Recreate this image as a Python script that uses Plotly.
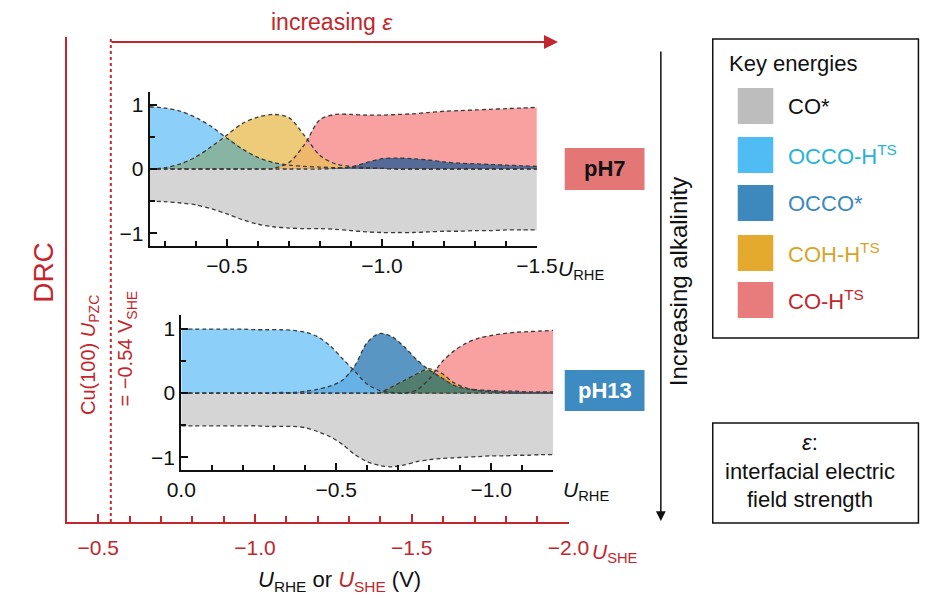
import numpy as np
import plotly.graph_objects as go

# ---------------- data ----------------
# pH 7 panel, potential vs RHE (V)
u_ph7 = [-0.25, -0.30, -0.35, -0.40, -0.45, -0.50, -0.55, -0.60, -0.65, -0.70,
         -0.75, -0.80, -0.85, -0.90, -0.95, -1.00, -1.05, -1.10, -1.15, -1.20,
         -1.25, -1.30, -1.35, -1.40, -1.45, -1.50]
ph7_co = [-0.50, -0.51, -0.53, -0.56, -0.62, -0.70, -0.79, -0.86, -0.90, -0.92,
          -0.93, -0.93, -0.94, -0.96, -0.98, -0.99, -0.99, -0.99, -0.98, -0.97,
          -0.97, -0.96, -0.96, -0.95, -0.95, -0.95]
ph7_occo_h = [0.97, 0.95, 0.90, 0.80, 0.66, 0.48, 0.31, 0.18, 0.10, 0.06,
              0.04, 0.03, 0.02, 0.02, 0.01, 0.01, 0, 0, 0, 0,
              0, 0, 0, 0, 0, 0]
ph7_occo = [0, 0, 0, 0, 0, 0, 0, 0, 0, 0,
            0, 0, 0.01, 0.03, 0.10, 0.16, 0.17, 0.16, 0.14, 0.11,
            0.09, 0.08, 0.07, 0.06, 0.05, 0.04]
ph7_coh_h = [0.00, 0.02, 0.08, 0.19, 0.35, 0.53, 0.71, 0.81, 0.85, 0.80,
             0.52, 0.21, 0.08, 0.04, 0.02, 0.01, 0, 0, 0, 0,
             0, 0, 0, 0, 0, 0]
ph7_co_h = [0, 0, 0, 0, 0, 0, 0, 0, 0.01, 0.10,
            0.38, 0.77, 0.85, 0.85, 0.84, 0.84, 0.85, 0.86, 0.88, 0.90,
            0.91, 0.92, 0.93, 0.94, 0.95, 0.96]

# pH 13 panel, potential vs RHE (V)
u_ph13 = [0.00, -0.04, -0.08, -0.12, -0.16, -0.20, -0.24, -0.28, -0.32, -0.36,
          -0.40, -0.44, -0.48, -0.52, -0.56, -0.60, -0.64, -0.68, -0.72, -0.76,
          -0.80, -0.84, -0.88, -0.92, -0.96, -1.00, -1.04, -1.08, -1.12, -1.16,
          -1.20]
ph13_co = [-0.51, -0.51, -0.51, -0.51, -0.51, -0.51, -0.51, -0.52, -0.52, -0.52,
           -0.54, -0.60, -0.68, -0.80, -0.96, -1.07, -1.13, -1.15, -1.12, -1.07,
           -1.04, -1.02, -1.01, -1.00, -0.99, -0.98, -0.98, -0.97, -0.97, -0.96,
           -0.96]
ph13_occo_h = [1.00, 1.00, 1.00, 1.00, 1.00, 1.00, 0.99, 0.99, 0.99, 0.98,
               0.95, 0.88, 0.74, 0.54, 0.34, 0.14, 0.04, 0.01, 0, 0,
               0, 0, 0, 0, 0, 0, 0, 0, 0, 0,
               0]
ph13_occo = [0, 0, 0, 0, 0, 0, 0, 0, 0.01, 0.01,
             0.03, 0.06, 0.11, 0.20, 0.43, 0.79, 0.93, 0.88, 0.72, 0.52,
             0.36, 0.24, 0.12, 0.07, 0.05, 0.04, 0.03, 0.03, 0.02, 0.02,
             0.02]
ph13_coh_h = [0, 0, 0, 0, 0, 0, 0, 0, 0, 0,
              0, 0, 0, 0, 0, 0, 0.01, 0.10, 0.20, 0.30,
              0.38, 0.31, 0.16, 0.08, 0.04, 0.02, 0.01, 0, 0, 0,
              0]
ph13_co_h = [0, 0, 0, 0, 0, 0, 0, 0, 0, 0,
             0, 0, 0, 0, 0, 0, 0, 0, 0, 0.05,
             0.22, 0.48, 0.66, 0.78, 0.86, 0.90, 0.93, 0.95, 0.96, 0.97,
             0.98]

# outer potential axis (SHE) and the Cu(100) potential of zero charge
she_ticks = [-0.5, -1.0, -1.5, -2.0]
u_pzc = -0.54

# legend entries: label, swatch colour, label colour
species = ["CO*", "OCCO-H<sup>TS</sup>", "OCCO*", "COH-H<sup>TS</sup>", "CO-H<sup>TS</sup>"]
swatch_colors = ["#BDBDBD", "#4FBDF4", "#3D88BC", "#E3AA2E", "#E87B7B"]
label_colors = ["#111111", "#27B3D8", "#3D88BC", "#D6A528", "#C1272D"]

# ---------------- styling ----------------
FONT = "Liberation Sans, Arial, sans-serif"
RED = "#C1272D"
W, H = 925, 598

fill_co = "#D5D5D5"
fill_occo_h = "#8CD0FA"
fill_occo = "#5A96C3"
fill_coh_h = "#EECB78"
fill_co_h = "#F9A1A1"


def px(x):
    return x / W


def py(y):
    return 1 - y / H


fig = go.Figure()


def area(xs, ys, color, xa, ya):
    fig.add_trace(go.Scatter(
        x=xs, y=ys, mode="lines", fill="tozeroy", fillcolor=color,
        line=dict(width=0, shape="spline", smoothing=0.9, color=color),
        xaxis=xa, yaxis=ya, hoverinfo="skip", showlegend=False))


def outline(xs, ys, xa, ya):
    fig.add_trace(go.Scatter(
        x=xs, y=ys, mode="lines",
        line=dict(width=1.3, shape="spline", smoothing=0.9, color="#3A3A3A", dash="4px,3px"),
        xaxis=xa, yaxis=ya, hoverinfo="skip", showlegend=False))


# ---- pH 7 panel ----
area(u_ph7, ph7_co, fill_co, "x2", "y2")
area(u_ph7, ph7_occo_h, fill_occo_h, "x2", "y2")
area(u_ph7, ph7_coh_h, fill_coh_h, "x2", "y2")
area(u_ph7, ph7_co_h, fill_co_h, "x2", "y2")
area(u_ph7, ph7_occo, fill_occo, "x2", "y2")
# overlapping regions
area(u_ph7, np.minimum(ph7_occo_h, ph7_coh_h), "#88B4A4", "x2", "y2")
area(u_ph7, np.minimum(ph7_occo_h, ph7_co_h), "#A6B6DE", "x2", "y2")
area(u_ph7, np.minimum(ph7_coh_h, ph7_co_h), "#EEB76C", "x2", "y2")
area(u_ph7, np.minimum(ph7_occo, ph7_co_h), "#566A98", "x2", "y2")
for s in (ph7_co, ph7_occo_h, ph7_coh_h, ph7_co_h, ph7_occo):
    outline(u_ph7, s, "x2", "y2")

# ---- pH 13 panel ----
area(u_ph13, ph13_co, fill_co, "x3", "y3")
area(u_ph13, ph13_occo_h, fill_occo_h, "x3", "y3")
area(u_ph13, ph13_occo, fill_occo, "x3", "y3")
area(u_ph13, ph13_coh_h, fill_coh_h, "x3", "y3")
area(u_ph13, ph13_co_h, fill_co_h, "x3", "y3")
area(u_ph13, np.minimum(ph13_occo_h, ph13_occo), "#66B1E6", "x3", "y3")
area(u_ph13, np.minimum(ph13_coh_h, ph13_co_h), "#F0A040", "x3", "y3")
area(u_ph13, np.minimum(ph13_occo, ph13_co_h), "#566A98", "x3", "y3")
area(u_ph13, np.minimum(ph13_occo, ph13_coh_h), "#517E6E", "x3", "y3")
for s in (ph13_co, ph13_occo_h, ph13_occo, ph13_coh_h, ph13_co_h):
    outline(u_ph13, s, "x3", "y3")

# ---------------- axes ----------------
inset_x = dict(
    showline=True, linecolor="#111111", linewidth=2, mirror=False,
    ticks="inside", ticklen=7, tickwidth=2, tickcolor="#111111",
    tickmode="linear", tick0=0, dtick=0.5, tickformat=".1f",
    minor=dict(ticks="inside", ticklen=5, tickwidth=1.5, tickcolor="#111111",
               tickmode="linear", tick0=0, dtick=0.1),
    tickfont=dict(family=FONT, size=21, color="#111111"),
    showgrid=False, zeroline=False, fixedrange=True)
inset_y = dict(
    showline=True, linecolor="#111111", linewidth=2,
    ticks="inside", ticklen=7, tickwidth=2, tickcolor="#111111",
    tickmode="linear", tick0=0, dtick=1, tickformat="d",
    minor=dict(ticks="inside", ticklen=5, tickwidth=1.5, tickcolor="#111111",
               tickmode="linear", tick0=0, dtick=0.5),
    tickfont=dict(family=FONT, size=21, color="#111111"),
    showgrid=False, zeroline=False, fixedrange=True)

fig.update_layout(
    width=W, height=H,
    margin=dict(l=0, r=0, t=0, b=0),
    paper_bgcolor="white", plot_bgcolor="rgba(0,0,0,0)",
    showlegend=False,
    font=dict(family=FONT, size=21, color="#111111"),
    xaxis=dict(
        domain=[px(54), px(576)], range=[-0.4, -2.0], anchor="y",
        showline=True, linecolor=RED, linewidth=2,
        ticks="inside", ticklen=8, tickwidth=2, tickcolor=RED,
        tickmode="array", tickvals=she_ticks,
        ticktext=[f"\u2212{abs(v):.1f}" for v in she_ticks],
        ticklabelstandoff=6,
        minor=dict(ticks="inside", ticklen=6, tickwidth=2, tickcolor=RED,
                   tickmode="linear", tick0=0, dtick=0.1),
        tickfont=dict(family=FONT, size=21, color=RED),
        showgrid=False, zeroline=False, fixedrange=True),
    yaxis=dict(
        domain=[py(522), py(37)], range=[0, 1], anchor="x",
        showline=True, linecolor=RED, linewidth=2,
        ticks="", showticklabels=False, showgrid=False, zeroline=False,
        fixedrange=True),
    xaxis2=dict(inset_x, domain=[px(140), px(543)], range=[-0.25, -1.5], anchor="y2"),
    yaxis2=dict(inset_y, domain=[py(246), py(92)], range=[-1.2, 1.2], anchor="x2"),
    xaxis3=dict(inset_x, domain=[px(173), px(560)], range=[0, -1.2], anchor="y3"),
    yaxis3=dict(inset_y, domain=[py(470), py(315)], range=[-1.2, 1.22], anchor="x3"),
)

shapes = []
annotations = []


def label(x, y, text, size, color="#111111", xanchor="center", angle=0, align="center"):
    annotations.append(dict(
        xref="paper", yref="paper", x=px(x), y=py(y), xanchor=xanchor, yanchor="middle",
        text=text, showarrow=False, textangle=angle, align=align,
        font=dict(family=FONT, size=size, color=color)))


# potential of zero charge marker on the SHE axis
shapes.append(dict(type="line", xref="x", yref="y", x0=u_pzc, x1=u_pzc, y0=0, y1=1,
                   line=dict(color=RED, width=2, dash="dot")))

# pH labels
shapes.append(dict(type="rect", xref="paper", yref="paper",
                   x0=px(572), x1=px(655), y0=py(190), y1=py(148),
                   fillcolor="#E57676", line=dict(width=0)))
shapes.append(dict(type="rect", xref="paper", yref="paper",
                   x0=px(572), x1=px(655), y0=py(411), y1=py(370),
                   fillcolor="#3D8BC0", line=dict(width=0)))
label(613.5, 169, "<b>pH7</b>", 22)
label(613.5, 390, "<b>pH13</b>", 22, color="white")

# legend box
shapes.append(dict(type="rect", xref="paper", yref="paper",
                   x0=px(726), x1=px(940), y0=py(338), y1=py(39),
                   fillcolor="rgba(0,0,0,0)", line=dict(color="#111111", width=1.5)))
label(741, 63, "Key energies", 22, xanchor="left")
row_y = [106, 155, 203, 253, 300]
for name, sc, lc, yc in zip(species, swatch_colors, label_colors, row_y):
    shapes.append(dict(type="rect", xref="paper", yref="paper",
                       x0=px(752), x1=px(789), y0=py(yc + 18), y1=py(yc - 18),
                       fillcolor=sc, line=dict(width=0)))
    label(802, yc, name, 22, color=lc, xanchor="left")

# epsilon definition box
shapes.append(dict(type="rect", xref="paper", yref="paper",
                   x0=px(726), x1=px(940), y0=py(523), y1=py(423),
                   fillcolor="rgba(0,0,0,0)", line=dict(color="#111111", width=1.5)))
label(827, 471, "<i>\u03b5</i>:<br>interfacial electric<br>field strength", 22)

# field-strength arrow along the top
annotations.append(dict(xref="paper", yref="paper", x=px(565), y=py(42),
                        ax=-448, ay=0, axref="pixel", ayref="pixel",
                        text="", showarrow=True, arrowhead=2, arrowsize=1.4,
                        arrowwidth=2, arrowcolor=RED))
label(330, 22, "increasing <i>\u03b5</i>", 23, color=RED)

# alkalinity arrow
annotations.append(dict(xref="paper", yref="paper", x=px(672), y=py(521),
                        ax=0, ay=-471, axref="pixel", ayref="pixel",
                        text="", showarrow=True, arrowhead=2, arrowsize=1.3,
                        arrowwidth=1.5, arrowcolor="#111111"))
label(690, 282, "Increasing alkalinity", 24, angle=-90)

# axis labels
label(30, 272, "DRC", 28, color=RED, angle=-90)
label(77, 355, "Cu(100) <i>U</i><sub>PZC</sub>", 20, color=RED, angle=-90)
label(117, 348, "= \u22120.54 V<sub>SHE</sub>", 20, color=RED, angle=-90)
label(563, 270, "<i>U</i><sub>RHE</sub>", 21, xanchor="left")
label(568, 491, "<i>U</i><sub>RHE</sub>", 21, xanchor="left")
label(598, 553, "<i>U</i><sub>SHE</sub>", 21, color=RED, xanchor="left")
label(338, 581, f"<i>U</i><sub>RHE</sub> or <span style='color:{RED}'><i>U</i><sub>SHE</sub></span> (V)", 22)

fig.update_layout(shapes=shapes, annotations=annotations)
fig.write_html("out.html")
